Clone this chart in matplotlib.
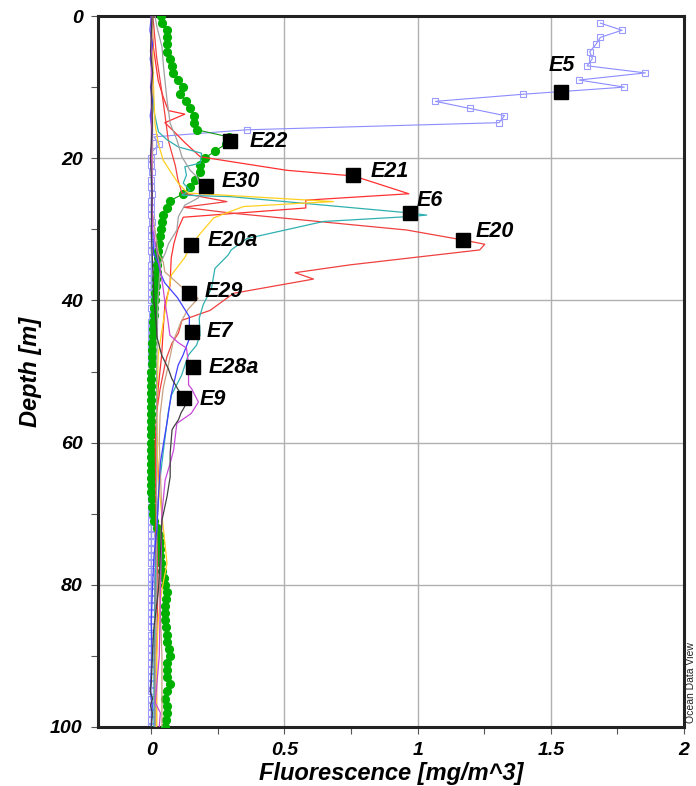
import numpy as np
import matplotlib
matplotlib.use("Agg")
from matplotlib import pyplot as plt
from matplotlib.ticker import MultipleLocator

plt.rcParams['font.family'] = ['Liberation Sans', 'DejaVu Sans']

# station E5: 1 m bins from 1 to 100 m
e5_depth = np.arange(1, 101)
e5_val = [1.686, 1.767, 1.686, 1.669, 1.646, 1.656, 1.636, 1.855, 1.606, 1.776,
          1.396, 1.067, 1.196, 1.326, 1.306, 0.359, 0.010, 0.030, 0.005, 0.000,
          0.000, 0.003, 0.000, 0.000, 0.002, 0.000, 0.000, 0.000, 0.003, 0.000,
          0.000, 0.000, 0.000, 0.002, 0.000, 0.000, 0.000, 0.000, 0.000, 0.000,
          0.000, 0.002, 0.000, 0.000, 0.000, 0.000, 0.000, 0.000, 0.000, 0.000,
          0.000, 0.000, 0.000, 0.000, 0.000, 0.000, 0.000, 0.000, 0.000, 0.000,
          0.000, 0.000, 0.000, 0.000, 0.000, 0.000, 0.000, 0.000, 0.000, 0.000,
          0.000, 0.000, 0.000, 0.000, 0.000, 0.000, 0.000, 0.000, 0.000, 0.000,
          0.000, 0.000, 0.000, 0.000, 0.000, 0.000, 0.000, 0.000, 0.000, 0.000,
          0.000, 0.000, 0.000, 0.000, 0.000, 0.000, 0.000, 0.000, 0.000, 0.000]

# station E22: 1 m bins from 0 to 100 m
e22_depth = np.arange(0, 101)
e22_val = [0.037, 0.040, 0.059, 0.059, 0.059, 0.059, 0.069, 0.077, 0.081, 0.100,
           0.119, 0.109, 0.130, 0.146, 0.159, 0.162, 0.171, 0.290, 0.280, 0.239,
           0.201, 0.183, 0.183, 0.164, 0.145, 0.120, 0.070, 0.058, 0.045, 0.039,
           0.035, 0.033, 0.029, 0.026, 0.024, 0.021, 0.020, 0.018, 0.016, 0.015,
           0.013, 0.012, 0.010, 0.008, 0.007, 0.005, 0.004, 0.003, 0.002, 0.001,
           0.000, 0.000, 0.000, 0.000, 0.000, 0.000, 0.000, 0.000, 0.000, 0.000,
           0.000, 0.000, 0.000, 0.000, 0.000, 0.000, 0.000, 0.000, 0.001, 0.002,
           0.005, 0.009, 0.021, 0.028, 0.031, 0.031, 0.031, 0.035, 0.040, 0.047,
           0.052, 0.059, 0.055, 0.052, 0.052, 0.052, 0.055, 0.059, 0.059, 0.065,
           0.071, 0.059, 0.059, 0.059, 0.071, 0.060, 0.052, 0.059, 0.059, 0.055,
           0.052]

e21_depth = [0, 4.4, 9.1, 11.4, 13.3, 13.8, 15.0, 15.9, 17.8, 19.8, 21.7, 22.5,
             25.0, 25.9, 27.0, 28.3, 30, 32, 34, 38, 40.6, 44, 47.7, 52.3, 56,
             60, 70, 80, 90, 100]
e21_val = [0.001, 0.008, 0.026, 0.045, 0.064, 0.126, 0.051, 0.076, 0.126, 0.184,
           0.509, 0.760, 0.967, 0.580, 0.580, 0.120, 0.100, 0.085, 0.075, 0.070,
           0.051, 0.045, 0.039, 0.026, 0.020, 0.015, 0.018, 0.015, 0.012, 0.015]

e20_depth = [0, 5.8, 10.5, 13.8, 17.5, 19, 21, 23, 24.9, 26.1, 26.9, 27.7, 30.1,
             31.5, 32.1, 32.9, 35.0, 36.1, 37.0, 39.0, 41.4, 42.8, 44.6, 46.0,
             47.9, 49.1, 52.5, 55.7, 61, 66, 72, 80, 90, 100]
e20_val = [0.006, 0.020, 0.039, 0.051, 0.064, 0.075, 0.090, 0.100, 0.115, 0.284,
           0.121, 0.296, 0.959, 1.170, 1.252, 1.233, 0.746, 0.540, 0.609, 0.309,
           0.221, 0.115, 0.102, 0.078, 0.059, 0.051, 0.033, 0.020, 0.021, 0.030,
           0.020, 0.025, 0.020, 0.020]

e6_depth = [0, 5, 10, 13.2, 16.3, 17.4, 18.4, 19.3, 20.7, 21.2, 22.4, 23.5, 24.5,
            25.2, 25.4, 27.7, 28.0, 28.2, 28.9, 31.3, 32.9, 33.6, 35.5, 38.3,
            40.6, 42.5, 44.9, 46.3, 47.7, 50.5, 53.3, 55.7, 61, 66, 72, 80, 90, 100]
e6_val = [0.005, 0.004, 0.006, 0.009, 0.027, 0.059, 0.101, 0.189, 0.183, 0.126,
          0.132, 0.120, 0.145, 0.114, 0.296, 0.971, 1.034, 0.971, 0.646, 0.359,
          0.300, 0.289, 0.239, 0.226, 0.195, 0.180, 0.183, 0.170, 0.139, 0.114,
          0.076, 0.064, 0.046, 0.030, 0.020, 0.015, 0.010, 0.010]

e20a_depth = [0, 9.6, 15.2, 17.9, 20.3, 22.1, 23.5, 24.5, 24.9, 26.1, 26.3, 26.8,
              27.5, 28.4, 30.6, 32.4, 33.9, 36.4, 38.8, 43, 47.7, 55, 65, 72.3,
              77, 80.7, 84.5, 90, 100]
e20a_val = [0.003, 0.008, 0.014, 0.026, 0.045, 0.076, 0.101, 0.126, 0.140, 0.684,
            0.580, 0.346, 0.296, 0.234, 0.184, 0.146, 0.127, 0.076, 0.064, 0.045,
            0.026, 0.020, 0.025, 0.046, 0.059, 0.040, 0.027, 0.020, 0.020]

e30_depth = [0, 1.5, 4.3, 7.1, 11.8, 15.1, 17.4, 19.8, 21.7, 22.6, 24.5, 25.6,
             26.6, 28.2, 30.1, 32.0, 33.4, 34.8, 40, 50, 60, 70, 80, 90, 100]
e30_val = [0.014, 0.021, 0.040, 0.046, 0.059, 0.071, 0.096, 0.115, 0.146, 0.171,
           0.189, 0.176, 0.126, 0.102, 0.096, 0.065, 0.052, 0.034, 0.025, 0.020,
           0.020, 0.020, 0.020, 0.015, 0.015]

e29_depth = [0, 10, 20, 27.3, 33.4, 34.6, 36, 38.1, 39.7, 41.3, 43, 45.7, 49.1,
             52.3, 56.1, 60, 65, 70, 75, 80, 85, 90, 95, 100]
e29_val = [0.003, 0.005, 0.005, 0.003, 0.027, 0.045, 0.051, 0.114, 0.176, 0.137,
           0.112, 0.083, 0.064, 0.045, 0.033, 0.030, 0.035, 0.040, 0.035, 0.030,
           0.035, 0.040, 0.040, 0.040]

e7_depth = [0, 2, 4, 6, 8, 10, 12, 14, 16, 20, 25, 30, 33.4, 34.8, 36.2, 37.5,
            39.6, 42.3, 45.4, 47.8, 49.1, 50.8, 53.4, 56.5, 60.1, 62.9, 67.6,
            72.3, 76, 80, 85, 90, 95, 97, 100]
e7_val = [0.000, -0.005, 0.005, -0.004, 0.004, -0.003, 0.005, -0.004, 0.003,
          0.000, 0.003, 0.005, 0.009, 0.027, 0.035, 0.050, 0.098, 0.143, 0.143,
          0.118, 0.101, 0.090, 0.074, 0.062, 0.046, 0.034, 0.027, 0.021, 0.010,
          0.005, 0.000, 0.003, -0.004, 0.004, 0.000]

e28a_depth = [0, 10, 20, 30, 35.5, 38.4, 40.2, 42.7, 44.9, 45.9, 46.7, 48.9,
              50.9, 51.9, 52.4, 54.3, 55.9, 57.3, 61, 62.9, 65.3, 70, 80, 90,
              96.6, 98, 100]
e28a_val = [0.000, 0.000, 0.001, 0.005, 0.033, 0.045, 0.051, 0.062, 0.070, 0.100,
            0.132, 0.140, 0.140, 0.140, 0.151, 0.177, 0.150, 0.096, 0.084, 0.071,
            0.052, 0.040, 0.035, 0.030, 0.015, 0.034, 0.030]

e9_depth = [0, 5, 8, 10, 15, 20, 25, 30, 35, 40, 43.9, 45.1, 47.7, 49.6, 51,
            52.5, 53.3, 54.9, 55.8, 56.8, 57.8, 58.2, 61.5, 64.8, 67.6, 69.9,
            70.9, 75, 80.7, 84.5, 86.4, 90, 93.8, 95, 96, 97, 98, 100]
e9_val = [0.003, -0.003, 0.005, 0.000, 0.004, -0.003, 0.003, 0.000, 0.005, 0.010,
          0.020, 0.021, 0.039, 0.064, 0.077, 0.100, 0.114, 0.126, 0.112, 0.102,
          0.084, 0.078, 0.071, 0.071, 0.059, 0.046, 0.040, 0.035, 0.027, 0.015,
          0.009, 0.004, 0.000, -0.004, 0.005, -0.003, 0.004, 0.000]

# station labels: name, fluorescence, depth, text offset (points)
stations = ['E5', 'E22', 'E21', 'E6', 'E20', 'E30', 'E20a', 'E29', 'E7', 'E28a', 'E9']
station_x = [1.537, 0.296, 0.757, 0.971, 1.170, 0.206, 0.150, 0.142, 0.154, 0.157, 0.124]
station_y = [10.7, 17.6, 22.4, 27.7, 31.5, 23.9, 32.2, 39.0, 44.4, 49.4, 53.7]
label_dx = [-9, 14, 13, 5, 9, 11, 12, 11, 10, 11, 11]
label_dy = [19, 0, 3, 9, 6, 3, 3, 1, 0, 0, -1]

lines = [
    (e21_depth, e21_val, '#ff3030'),
    (e20_depth, e20_val, '#f04040'),
    (e6_depth, e6_val, '#30b0b0'),
    (e20a_depth, e20a_val, '#ffd020'),
    (e30_depth, e30_val, '#a0a0a0'),
    (e29_depth, e29_val, '#c8a080'),
    (e7_depth, e7_val, '#4040ff'),
    (e28a_depth, e28a_val, '#c848d8'),
    (e9_depth, e9_val, '#404040'),
]

fig = plt.figure(figsize=(6.96, 7.86), dpi=100)
ax = fig.add_axes([0.1408, 0.0751, 0.8420, 0.9045])

ax.plot(e5_val, e5_depth, '-', color='#8c8cff', lw=0.8, marker='s', ms=4.5,
        mfc='none', mec='#9a9aff', mew=0.8, zorder=2)
ax.plot(e22_val, e22_depth, '-', color='#119911', lw=0.8, marker='o', ms=5.6,
        mfc='#00b000', mec='#00b000', zorder=3)
for d, v, c in lines:
    ax.plot(v, d, '-', color=c, lw=0.9, zorder=4)

ax.plot(station_x, station_y, 's', color='black', ms=10, zorder=5)
for name, x, y, dx, dy in zip(stations, station_x, station_y, label_dx, label_dy):
    ax.annotate(name, (x, y), xytext=(dx, dy), textcoords='offset points',
                ha='left', va='center', fontsize=15.5, fontweight='bold',
                fontstyle='italic', zorder=6)

ax.set_xlim(-0.2, 2)
ax.set_ylim(100, 0)
ax.xaxis.set_major_locator(MultipleLocator(0.5))
ax.xaxis.set_minor_locator(MultipleLocator(0.25))
ax.yaxis.set_major_locator(MultipleLocator(20))
ax.yaxis.set_minor_locator(MultipleLocator(10))
ax.set_xticks([0, 0.5, 1, 1.5, 2])
ax.set_xticklabels(['0', '0.5', '1', '1.5', '2'])
ax.grid(True, which='major', color='#b0b0b0', lw=1.0)
ax.set_axisbelow(True)

for s in ax.spines.values():
    s.set_linewidth(2.2)
    s.set_color('#222222')
ax.tick_params(which='both', direction='out', length=5, width=0.8, color='#555555')
ax.tick_params(which='major', labelsize=14, pad=6)
for lab in ax.get_xticklabels() + ax.get_yticklabels():
    lab.set_fontweight('bold')
    lab.set_fontstyle('italic')

ax.set_xlabel('Fluorescence [mg/m^3]', fontsize=17, fontweight='bold',
              fontstyle='italic', labelpad=2)
ax.set_ylabel('Depth [m]', fontsize=17, fontweight='bold', fontstyle='italic',
              labelpad=6)

fig.text(0.9855, 0.08, 'Ocean Data View', rotation=90, ha='left', va='bottom',
         fontsize=7.5, color='#222222')

fig.savefig('out.png', dpi=100)
